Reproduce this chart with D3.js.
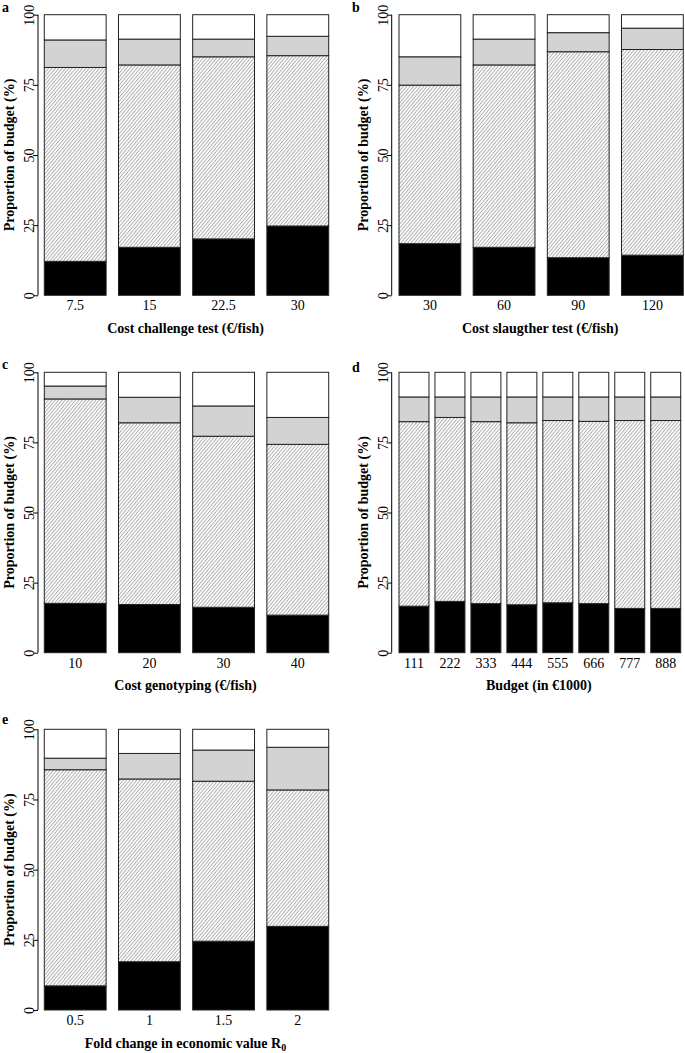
<!DOCTYPE html>
<html>
<head>
<meta charset="utf-8">
<script src="https://cdn.jsdelivr.net/npm/d3@7"></script>
<style>
  html, body { margin: 0; padding: 0; background: #fff; }
  svg text { font-family: "Liberation Serif", "Times New Roman", serif; fill: #000; }
</style>
</head>
<body>
<svg id="chart" width="685" height="1053"></svg>
<script>
// ---- data (percent of budget per bar; stacked bottom to top) ----
const catsA = ["7.5", "15", "22.5", "30"];
const blackA = [12.1, 17.1, 20.1, 24.7];
const hatchA = [69.1, 65.0, 64.9, 60.7];
const greyA  = [9.8, 9.2, 6.3, 6.9];
const whiteA = [9.0, 8.7, 8.7, 7.7];

const catsB = ["30", "60", "90", "120"];
const blackB = [18.4, 17.1, 13.4, 14.3];
const hatchB = [56.5, 65.0, 73.4, 73.3];
const greyB  = [10.1, 9.2, 6.8, 7.6];
const whiteB = [15.0, 8.7, 6.4, 4.8];

const catsC = ["10", "20", "30", "40"];
const blackC = [17.6, 17.2, 16.2, 13.4];
const hatchC = [72.9, 64.8, 61.0, 60.9];
const greyC  = [4.6, 9.1, 10.8, 9.6];
const whiteC = [4.9, 8.9, 12.0, 16.1];

const catsD = ["111", "222", "333", "444", "555", "666", "777", "888"];
const blackD = [16.6, 18.3, 17.5, 17.1, 17.8, 17.5, 15.8, 15.8];
const hatchD = [65.8, 65.6, 64.9, 64.9, 65.0, 65.0, 67.0, 67.0];
const greyD  = [8.8, 7.3, 8.8, 9.2, 8.4, 8.7, 8.4, 8.4];
const whiteD = [8.8, 8.8, 8.8, 8.8, 8.8, 8.8, 8.8, 8.8];

const catsE = ["0.5", "1", "1.5", "2"];
const blackE = [8.6, 17.2, 24.5, 29.8];
const hatchE = [77.0, 65.1, 57.0, 48.6];
const greyE  = [4.1, 9.1, 11.1, 15.2];
const whiteE = [10.3, 8.6, 7.4, 6.4];

const yTicks = [0, 25, 50, 75, 100];
const seriesKeys = ["black", "hatch", "grey", "white"];

// ---- drawing ----
const svg = d3.select("#chart");
const defs = svg.append("defs");
const pat = defs.append("pattern")
  .attr("id", "hatch")
  .attr("patternUnits", "userSpaceOnUse")
  .attr("width", 2.6).attr("height", 10)
  .attr("patternTransform", "rotate(40)");
pat.append("rect").attr("width", 2.6).attr("height", 10).attr("fill", "#fff");
pat.append("line").attr("x1", 0.5).attr("y1", 0).attr("x2", 0.5).attr("y2", 10)
  .attr("stroke", "#a8a8a8").attr("stroke-width", 0.9);

const fills = { black: "#000", hatch: "url(#hatch)", grey: "#d3d3d3", white: "#fff" };

const panels = [
  { letter: "a", lx: 2, ly: 12, axisX: 38, x0: 44.3, x1: 328.7, y0: 295.3, y100: 14.7,
    cats: catsA, s: [blackA, hatchA, greyA, whiteA], title: "Cost challenge test (€/fish)" },
  { letter: "b", lx: 352, ly: 12, axisX: 391.7, x0: 399, x1: 683.3, y0: 295.3, y100: 14.7,
    cats: catsB, s: [blackB, hatchB, greyB, whiteB], title: "Cost slaugther test (€/fish)" },
  { letter: "c", lx: 2, ly: 369, axisX: 38, x0: 44.3, x1: 328.7, y0: 652.7, y100: 372.3,
    cats: catsC, s: [blackC, hatchC, greyC, whiteC], title: "Cost genotyping (€/fish)" },
  { letter: "d", lx: 352, ly: 372, axisX: 391.7, x0: 399, x1: 680.7, y0: 652.7, y100: 372.3,
    cats: catsD, s: [blackD, hatchD, greyD, whiteD], title: "Budget (in €1000)" },
  { letter: "e", lx: 2, ly: 724, axisX: 38, x0: 44.3, x1: 328.7, y0: 1010, y100: 729.3,
    cats: catsE, s: [blackE, hatchE, greyE, whiteE], title: "Fold change in economic value R", sub: "0" }
];

panels.forEach(p => {
  const g = svg.append("g");
  const x = d3.scaleBand().domain(p.cats).range([p.x0, p.x1])
    .paddingInner(0.2 / 1.2).paddingOuter(0);
  const y = d3.scaleLinear().domain([0, 100]).range([p.y0, p.y100]);

  const rows = p.cats.map((c, i) => {
    const r = { cat: c };
    seriesKeys.forEach((k, j) => r[k] = p.s[j][i]);
    return r;
  });
  const stacked = d3.stack().keys(seriesKeys)(rows);

  stacked.forEach(layer => {
    g.append("g").selectAll("rect").data(layer).join("rect")
      .attr("x", d => x(d.data.cat))
      .attr("width", x.bandwidth())
      .attr("y", d => y(Math.min(d[1], 100)))
      .attr("height", d => y(d[0]) - y(Math.min(d[1], 100)))
      .attr("fill", fills[layer.key])
      .attr("stroke", "#222")
      .attr("stroke-width", 1);
  });

  // y axis
  const yAxis = d3.axisLeft(y).tickValues(yTicks).tickSize(5).tickPadding(3).tickFormat(d3.format("d"));
  const ag = g.append("g").attr("transform", `translate(${p.axisX},0)`).call(yAxis);
  ag.select(".domain").attr("stroke", "#000").attr("stroke-width", 1).attr("d", `M0,${p.y0}V${p.y100}`);
  ag.selectAll(".tick line").attr("stroke", "#000");
  ag.selectAll(".tick text")
    .attr("x", null).attr("dy", null)
    .attr("text-anchor", "middle")
    .attr("transform", "translate(-4,0) rotate(-90)")
    .attr("font-size", 14)
    .attr("font-family", "Liberation Serif, serif");

  // x tick labels
  g.append("g").selectAll("text").data(p.cats).join("text")
    .attr("x", d => x(d) + x.bandwidth() / 2)
    .attr("y", p.y0 + 15)
    .attr("text-anchor", "middle")
    .attr("font-size", 14)
    .text(d => d);

  // x title
  const t = g.append("text")
    .attr("x", (p.x0 + p.x1) / 2 - 1)
    .attr("y", p.y0 + 37.5)
    .attr("text-anchor", "middle")
    .attr("font-size", 14)
    .attr("font-weight", "bold")
    .text(p.title);
  if (p.sub) {
    t.append("tspan").attr("font-size", 10).attr("dy", 3).text(p.sub);
  }

  // y title
  g.append("text")
    .attr("transform", `translate(${p.axisX - 24},${(p.y0 + p.y100) / 2}) rotate(-90)`)
    .attr("text-anchor", "middle")
    .attr("font-size", 14)
    .attr("font-weight", "bold")
    .text("Proportion of budget (%)");

  // panel letter
  g.append("text")
    .attr("x", p.lx).attr("y", p.ly)
    .attr("font-size", 14)
    .attr("font-weight", "bold")
    .text(p.letter);
});
</script>
</body>
</html>
